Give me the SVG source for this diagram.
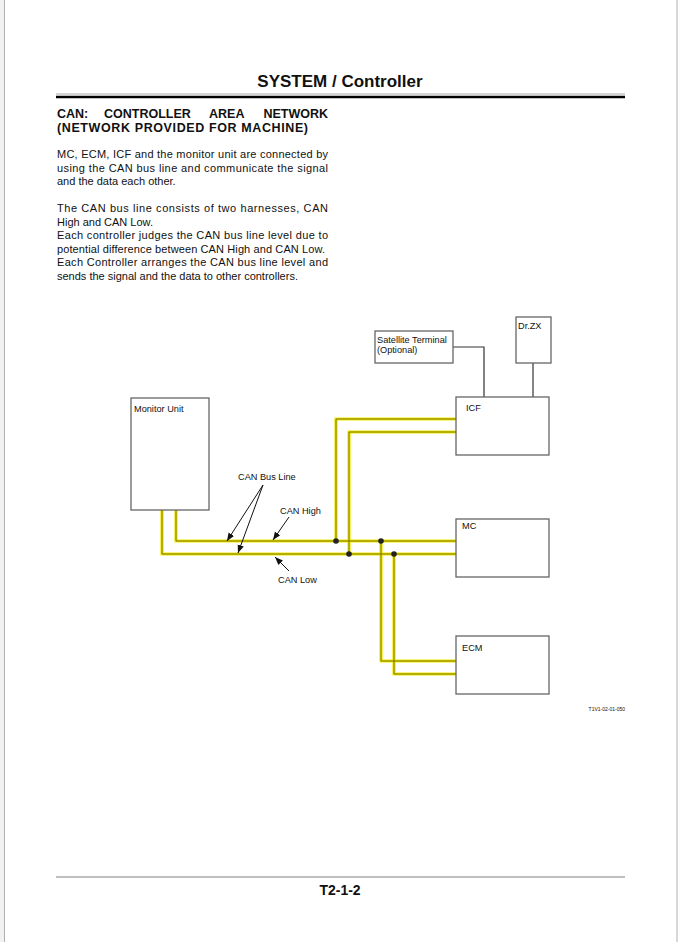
<svg xmlns="http://www.w3.org/2000/svg" width="679" height="942" viewBox="0 0 679 942">
<style>
text{font-family:"Liberation Sans",Arial,sans-serif;fill:#111}
.b{font-weight:bold}
.t{font-weight:bold;font-size:12.5px}
.body{font-size:11px}
.lbl{font-size:9.2px}
.box{fill:#fff;stroke:#666;stroke-width:1.3}
.wire{fill:none;stroke:#f0e800;stroke-width:3.2;stroke-linejoin:miter}
.core{fill:none;stroke:#6e6600;stroke-width:0.9}
.cable{fill:none;stroke:#333;stroke-width:1.2}
.ptr{fill:none;stroke:#111;stroke-width:1}
.dot{fill:#222}
</style>
<defs>
<marker id="ah" viewBox="0 0 10 10" refX="10" refY="5" markerWidth="8" markerHeight="8" markerUnits="userSpaceOnUse" orient="auto">
<path d="M0,1 L10,5 L0,9 Z" fill="#111"/>
</marker>
</defs>
<rect x="0" y="0" width="679" height="942" fill="#fff"/>
<rect x="0" y="0" width="4" height="942" fill="#f1f1f1"/>
<line x1="4.5" y1="0" x2="4.5" y2="942" stroke="#b0b0b0" stroke-width="1"/>
<line x1="677" y1="0" x2="677" y2="942" stroke="#b0b0b0" stroke-width="1"/>

<g id="header">
<text x="340" y="87" text-anchor="middle" class="b" font-size="17">SYSTEM / Controller</text>
<line x1="56" y1="94" x2="625" y2="94" stroke="#aaa" stroke-width="1.2"/>
<line x1="56" y1="97" x2="625" y2="97" stroke="#000" stroke-width="2.4"/>
</g>

<g id="intro">
<text x="57" y="117.5" class="t">CAN:</text>
<text x="104" y="117.5" class="t">CONTROLLER</text>
<text x="209" y="117.5" class="t">AREA</text>
<text x="328" y="117.5" class="t" text-anchor="end">NETWORK</text>
<text x="57" y="131.5" class="t" textLength="251" lengthAdjust="spacing">(NETWORK PROVIDED FOR MACHINE)</text>
<text x="57" y="158" class="body" textLength="271" lengthAdjust="spacing">MC, ECM, ICF and the monitor unit are connected by</text>
<text x="57" y="172" class="body" textLength="271" lengthAdjust="spacing">using the CAN bus line and communicate the signal</text>
<text x="57" y="185" class="body">and the data each other.</text>
<text x="57" y="212" class="body" textLength="271" lengthAdjust="spacing">The CAN bus line consists of two harnesses, CAN</text>
<text x="57" y="226" class="body">High and CAN Low.</text>
<text x="57" y="239" class="body" textLength="271" lengthAdjust="spacing">Each controller judges the CAN bus line level due to</text>
<text x="57" y="253" class="body" textLength="268" lengthAdjust="spacing">potential difference between CAN High and CAN Low.</text>
<text x="57" y="266" class="body" textLength="271" lengthAdjust="spacing">Each Controller arranges the CAN bus line level and</text>
<text x="57" y="280" class="body">sends the signal and the data to other controllers.</text>
</g>

<g id="connectors">
<path class="cable" d="M453,347 H484 V397"/>
<path class="cable" d="M533,363 V397"/>
<path class="wire" d="M176,510 V541 H456"/>
<path class="wire" d="M162,510 V554 H456"/>
<path class="wire" d="M336,541 V419 H456"/>
<path class="wire" d="M349,554 V432 H456"/>
<path class="wire" d="M381,541 V661 H456"/>
<path class="wire" d="M394,554 V674 H456"/>
<path class="core" d="M176,510 V541 H456"/>
<path class="core" d="M162,510 V554 H456"/>
<path class="core" d="M336,541 V419 H456"/>
<path class="core" d="M349,554 V432 H456"/>
<path class="core" d="M381,541 V661 H456"/>
<path class="core" d="M394,554 V674 H456"/>
<circle class="dot" cx="336" cy="541" r="2.8"/>
<circle class="dot" cx="381" cy="541" r="2.8"/>
<circle class="dot" cx="349" cy="554" r="2.8"/>
<circle class="dot" cx="394" cy="554" r="2.8"/>
<line class="ptr" x1="263" y1="485" x2="227" y2="541" marker-end="url(#ah)"/>
<line class="ptr" x1="263" y1="485" x2="238" y2="553" marker-end="url(#ah)"/>
<line class="ptr" x1="289" y1="517" x2="273" y2="540" marker-end="url(#ah)"/>
<line class="ptr" x1="289" y1="571" x2="275" y2="557" marker-end="url(#ah)"/>
<text x="238" y="480" class="lbl">CAN Bus Line</text>
<text x="280" y="514" class="lbl">CAN High</text>
<text x="278" y="583" class="lbl">CAN Low</text>
</g>

<g id="satellite">
<rect class="box" x="375" y="331" width="78" height="32"/>
<text x="377" y="343" class="lbl">Satellite Terminal</text>
<text x="377" y="353" class="lbl">(Optional)</text>
</g>
<g id="drzx">
<rect class="box" x="516" y="317" width="35" height="46"/>
<text x="518" y="329" class="lbl">Dr.ZX</text>
</g>
<g id="icf">
<rect class="box" x="456" y="397" width="93" height="58"/>
<text x="466" y="411" class="lbl">ICF</text>
</g>
<g id="mc">
<rect class="box" x="456" y="519" width="93" height="58"/>
<text x="462" y="529" class="lbl">MC</text>
</g>
<g id="ecm">
<rect class="box" x="456" y="636" width="93" height="58"/>
<text x="462" y="651" class="lbl">ECM</text>
</g>
<g id="monitor">
<rect class="box" x="131" y="398" width="78" height="112"/>
<text x="134" y="412" class="lbl">Monitor Unit</text>
</g>

<text x="625" y="711" text-anchor="end" font-size="5">T1V1-02-01-050</text>

<g id="footer">
<line x1="56" y1="877" x2="625" y2="877" stroke="#aaa" stroke-width="1.6"/>
<text x="340" y="895" text-anchor="middle" class="b" font-size="14">T2-1-2</text>
</g>
</svg>
